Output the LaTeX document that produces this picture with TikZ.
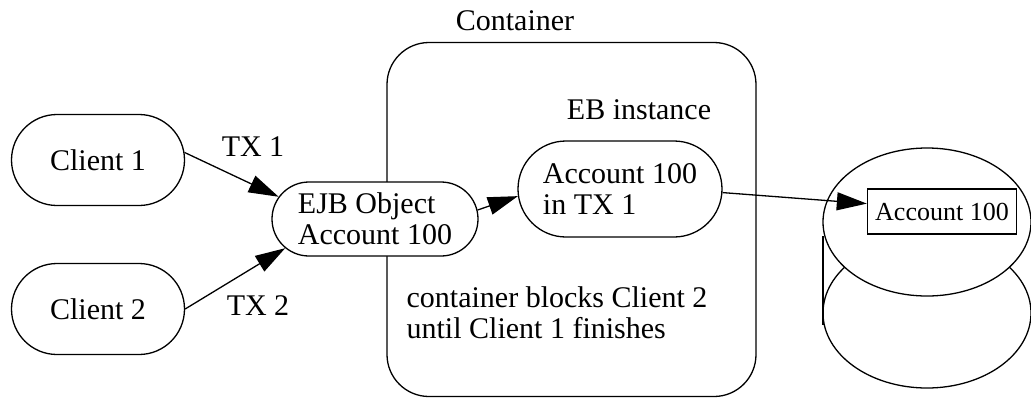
\documentclass[tikz,border=0pt]{standalone}
\usepackage{fontspec}
\setmainfont{Liberation Serif}
\usetikzlibrary{arrows.meta,shapes.misc}
\begin{document}
\begin{tikzpicture}[x=1pt,y=-1pt, line width=1.3pt,
 pill/.style={draw, fill=white, rounded rectangle, align=left, inner sep=0pt, font=\fontsize{30}{31}\selectfont},
 lbl/.style={font=\fontsize{30}{31}\selectfont, inner sep=0pt},
 arr/.style={-{Triangle[length=30pt,width=18pt]}}]
\useasboundingbox (0,0) rectangle (1031,400);
% container
\node[draw, rounded corners=42pt, minimum width=369pt, minimum height=354pt, inner sep=0pt] (cont) at (571.5,219.5) {};
\node[lbl] (contlbl) at (515,21) {Container};
\node[lbl] (eblbl) at (639,110) {EB instance};
% nodes
\node[pill, minimum width=173pt, minimum height=91pt] (c1) at (98,160) {Client 1};
\node[pill, minimum width=173pt, minimum height=91pt] (c2) at (98,309) {Client 2};
\node[pill, minimum width=206pt, minimum height=74pt] (ejb) at (375,219) {EJB Object\\Account 100};
\node[pill, minimum width=204pt, minimum height=96pt] (acct) at (620,189) {Account 100\\in TX 1};
\node[lbl] (tx1) at (253,147) {TX 1};
\node[lbl] (tx2) at (258,306) {TX 2};
\node[lbl, align=left, anchor=west] (note) at (406,313) {container blocks Client 2\\until Client 1 finishes};
% database cylinder
\draw (927,313) ellipse [x radius=104, y radius=75];
\filldraw[fill=white] (927,222) ellipse [x radius=104, y radius=74];
\draw (823,236) -- (823,325);
\node[draw, fill=white, minimum width=149pt, minimum height=45pt, inner sep=0pt, font=\fontsize{26}{28}\selectfont] (dbx) at (942,211.5) {Account 100};
% connectors
\draw[arr] (c1.5) -- (ejb.167);
\draw[arr] (c2.east) -- (ejb.198);
\draw[arr] (ejb.5) -- (acct.184);
\draw[arr] (acct.358) -- (dbx.174);
\end{tikzpicture}
\end{document}
